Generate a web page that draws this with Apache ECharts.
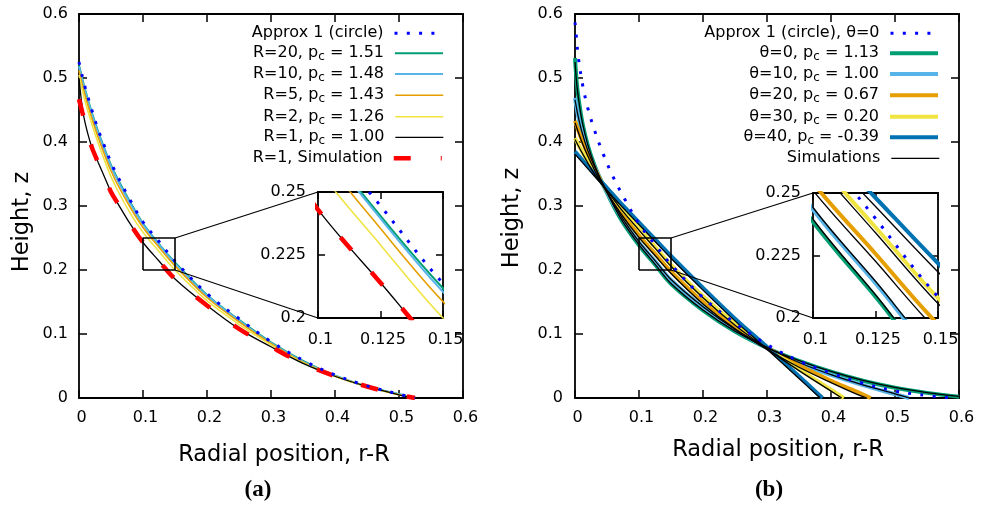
<!DOCTYPE html>
<html><head><meta charset="utf-8">
<script src="https://cdn.jsdelivr.net/npm/echarts@6/dist/echarts.min.js"></script>
<style>html,body{margin:0;padding:0;background:#fff}#c{width:988px;height:505px}</style>
</head><body><div id="c"></div>
<script>
// ---------------- tick values ----------------
const mainTicks = [0, 0.1, 0.2, 0.3, 0.4, 0.5, 0.6];
const insetXTicks = [0.1, 0.125, 0.15];
const insetZTicks = [0.2, 0.225, 0.25];
const zoomX = [0.1, 0.15];
const zoomZ = [0.2, 0.25];

// ---------------- panel (a) ----------------
const aX      = [0, 0.005, 0.01, 0.02, 0.03, 0.04, 0.05, 0.06, 0.08, 0.1, 0.125, 0.15, 0.2, 0.25, 0.3, 0.35, 0.4, 0.45, 0.5, 0.525];
const aCircle = [0.525, 0.503, 0.484, 0.450, 0.419, 0.393, 0.368, 0.347, 0.309, 0.275, 0.2445, 0.2138, 0.163, 0.124, 0.088, 0.059, 0.036, 0.019, 0.006, 0];
const aR20    = [0.520, 0.499, 0.480, 0.446, 0.416, 0.389, 0.364, 0.343, 0.306, 0.2725, 0.2405, 0.2118, 0.161, 0.122, 0.087, 0.058, 0.035, 0.018, 0.006, 0];
const aR10    = [0.518, 0.497, 0.478, 0.444, 0.414, 0.387, 0.362, 0.341, 0.304, 0.2715, 0.2395, 0.2104, 0.160, 0.121, 0.086, 0.057, 0.035, 0.018, 0.006, 0];
const aR5     = [0.512, 0.490, 0.471, 0.437, 0.407, 0.380, 0.355, 0.334, 0.298, 0.2665, 0.2355, 0.2065, 0.157, 0.119, 0.085, 0.056, 0.034, 0.018, 0.005, 0];
const aR2     = [0.505, 0.482, 0.462, 0.428, 0.398, 0.371, 0.346, 0.325, 0.289, 0.259, 0.229, 0.200, 0.152, 0.115, 0.083, 0.055, 0.034, 0.018, 0.005, 0];
const aR1     = [0.500, 0.455, 0.428, 0.392, 0.368, 0.345, 0.322, 0.305, 0.272, 0.243, 0.214, 0.186, 0.1445, 0.108, 0.080, 0.054, 0.034, 0.018, 0.005, 0];
const aSim    = [0.467, 0.447, 0.428, 0.392, 0.368, 0.345, 0.322, 0.305, 0.272, 0.243, 0.214, 0.186, 0.1445, 0.108, 0.080, 0.054, 0.034, 0.018, 0.005, 0];
const aNames  = ['Approx 1 (circle)', 'R=20', 'R=10', 'R=5', 'R=2', 'R=1', 'R=1, Simulation'];
const aLegend = ['Approx 1 (circle)', 'R=20, p{s|c} = 1.51', 'R=10, p{s|c} = 1.48', 'R=5, p{s|c} = 1.43', 'R=2, p{s|c} = 1.26', 'R=1, p{s|c} = 1.00', 'R=1, Simulation'];

// ---------------- panel (b) ----------------
const bCircleX = [0, 0.002, 0.005, 0.0114, 0.0197, 0.0306, 0.0442, 0.0593, 0.077, 0.1, 0.125, 0.15, 0.2, 0.25, 0.3, 0.35, 0.4, 0.45, 0.5, 0.54, 0.587];
const bCircleZ = [0.587, 0.566, 0.534, 0.492, 0.454, 0.418, 0.381, 0.346, 0.312, 0.272, 0.2398, 0.2085, 0.157, 0.117, 0.0835, 0.058, 0.039, 0.023, 0.011, 0.005, 0];

const b0X  = [0, 0.003, 0.007, 0.012, 0.02, 0.03, 0.042, 0.07, 0.1, 0.125, 0.15, 0.2, 0.25, 0.303, 0.35, 0.4, 0.45, 0.5, 0.55, 0.6];
const b0Z  = [0.531, 0.490, 0.458, 0.428, 0.395, 0.365, 0.337, 0.282, 0.2385, 0.2085, 0.1785, 0.137, 0.104, 0.077, 0.058, 0.041, 0.027, 0.016, 0.008, 0.002];
const b0S  = [0.525, 0.488, 0.457, 0.428, 0.3955, 0.3655, 0.3375, 0.283, 0.2395, 0.2093, 0.179, 0.1375, 0.1045, 0.0775, 0.0585, 0.0415, 0.0275, 0.0165, 0.0085, 0.0025];

const b10X = [0, 0.005, 0.01, 0.02, 0.03, 0.042, 0.07, 0.1, 0.125, 0.15, 0.2, 0.25, 0.303, 0.35, 0.4, 0.45, 0.5, 0.522];
const b10Z = [0.469, 0.440, 0.418, 0.386, 0.362, 0.337, 0.2866, 0.2434, 0.2139, 0.1844, 0.142, 0.107, 0.077, 0.055, 0.036, 0.020, 0.006, 0];
const b10S = [0.466, 0.440, 0.4185, 0.3865, 0.3625, 0.3375, 0.2873, 0.2442, 0.2147, 0.1852, 0.1427, 0.1075, 0.0775, 0.0555, 0.0365, 0.0205, 0.0065, 0.0003];

const b20X  = [0, 0.01, 0.02, 0.03, 0.042, 0.07, 0.1, 0.125, 0.15, 0.2, 0.25, 0.303, 0.35, 0.4, 0.44, 0.462];
const b20Z  = [0.433, 0.405, 0.381, 0.360, 0.337, 0.2936, 0.254, 0.2257, 0.1975, 0.150, 0.111, 0.077, 0.051, 0.027, 0.010, 0];
const b20SX = [0, 0.01, 0.02, 0.03, 0.042, 0.07, 0.1, 0.125, 0.15, 0.2, 0.25, 0.303, 0.35, 0.4, 0.44, 0.456];
const b20S  = [0.430, 0.402, 0.378, 0.357, 0.334, 0.2906, 0.251, 0.2227, 0.1945, 0.147, 0.108, 0.074, 0.048, 0.024, 0.006, 0];

const b30X  = [0, 0.01, 0.02, 0.03, 0.042, 0.07, 0.1, 0.125, 0.15, 0.2, 0.25, 0.303, 0.35, 0.4, 0.42];
const b30Z  = [0.406, 0.387, 0.3695, 0.3525, 0.337, 0.2998, 0.2646, 0.2363, 0.208, 0.159, 0.116, 0.077, 0.045, 0.013, 0];
const b30SX = [0, 0.01, 0.02, 0.03, 0.042, 0.07, 0.1, 0.125, 0.15, 0.2, 0.25, 0.303, 0.35, 0.4, 0.4167];
const b30S  = [0.404, 0.385, 0.3675, 0.3505, 0.3348, 0.2976, 0.2624, 0.2341, 0.2058, 0.1568, 0.1138, 0.0748, 0.0428, 0.0108, 0];

const b40X  = [0, 0.02, 0.042, 0.07, 0.1, 0.125, 0.15, 0.2, 0.25, 0.303, 0.35, 0.3865];
const b40Z  = [0.385, 0.362, 0.337, 0.306, 0.2744, 0.2481, 0.2219, 0.172, 0.124, 0.077, 0.034, 0];
const b40SX = [0, 0.02, 0.042, 0.07, 0.1, 0.125, 0.15, 0.2, 0.25, 0.303, 0.35, 0.383];
const b40S  = [0.381, 0.3585, 0.3335, 0.3025, 0.2709, 0.2446, 0.2184, 0.1685, 0.1205, 0.0735, 0.0305, 0];

const bNames  = ['Approx 1 (circle), θ=0', 'θ=0', 'θ=10', 'θ=20', 'θ=30', 'θ=40', 'Simulations'];
const bLegend = ['Approx 1 (circle), θ=0', 'θ=0, p{s|c} = 1.13', 'θ=10, p{s|c} = 1.00', 'θ=20, p{s|c} = 0.67', 'θ=30, p{s|c} = 0.20', 'θ=40, p{s|c} = -0.39', 'Simulations'];

// ---------------- styling ----------------
const FONT = 'DejaVu Sans';
const K = '#000';
const C = {green:'#009e73', lblue:'#56b4e9', orange:'#e69f00', yellow:'#f0e442', dblue:'#0072b2', dots:'#0000ff', red:'#ff0000'};
const DOT = [3, 9.3];
const DASH = [17, 30];

function fmt(v){ return String(+(+v).toFixed(3)); }
function step(t){ return +(t[1]-t[0]).toFixed(6); }
function zip(xs, zs){ return xs.map((x,i)=>[x, zs[i]]); }

function ax(ticks, gridIndex, position, showLabel, margin, tickLen, pad){
  return {
    type:'value', gridIndex, position,
    min:ticks[0], max:ticks[ticks.length-1], interval:step(ticks),
    axisLine:{show:true, onZero:false, lineStyle:{color:K, width:1.8}},
    axisTick:{show:true, inside:true, length:tickLen, lineStyle:{color:K, width:1.5}},
    splitLine:{show:false},
    axisLabel:{show:showLabel, margin:margin||0, color:K, fontFamily:FONT, fontSize:16,
      formatter:fmt, padding:pad||0, showMinLabel:true, showMaxLabel:true}
  };
}

const xAxis = [
  ax(mainTicks, 0, 'bottom', true, 12, 8, [0,0,0,5]),
  ax(mainTicks, 0, 'top', false, 0, 8),
  ax(insetXTicks, 1, 'bottom', true, 14, 7, [0,0,0,5]),
  ax(insetXTicks, 1, 'top', false, 0, 7),
  ax(mainTicks, 2, 'bottom', true, 12, 8, [0,0,0,5]),
  ax(mainTicks, 2, 'top', false, 0, 8),
  ax(insetXTicks, 3, 'bottom', true, 14, 7, [0,0,0,5]),
  ax(insetXTicks, 3, 'top', false, 0, 7)
];
const yAxis = [
  ax(mainTicks, 0, 'left', true, 11, 8),
  ax(mainTicks, 0, 'right', false, 0, 8),
  ax(insetZTicks, 1, 'left', true, 12, 7),
  ax(insetZTicks, 1, 'right', false, 0, 7),
  ax(mainTicks, 2, 'left', true, 12, 8),
  ax(mainTicks, 2, 'right', false, 0, 8),
  ax(insetZTicks, 3, 'left', true, 12, 7),
  ax(insetZTicks, 3, 'right', false, 0, 7)
];

const grid = [
  {left:79, top:14, width:384, height:384},
  {left:318, top:192, width:125, height:126},
  {left:575, top:14, width:384, height:384},
  {left:813, top:193, width:125, height:125}
];

function line(name, data, color, width, type, ai, z){
  return {type:'line', name, data, xAxisIndex:ai, yAxisIndex:ai, symbol:'none',
    smooth:0.35, clip:true, silent:true, z,
    lineStyle:{color, width, type, cap:'butt'}, itemStyle:{color}};
}

function panelA(ai){
  return [
    line(aNames[1], zip(aX, aR20), C.green, 2, 'solid', ai, 2),
    line(aNames[2], zip(aX, aR10), C.lblue, 2, 'solid', ai, 2),
    line(aNames[3], zip(aX, aR5), C.orange, 1.6, 'solid', ai, 2),
    line(aNames[4], zip(aX, aR2), C.yellow, 1.6, 'solid', ai, 2),
    line(aNames[5], zip(aX, aR1), K, 1.3, 'solid', ai, 3),
    line(aNames[6], zip(aX, aSim), C.red, 4.5, DASH, ai, 4),
    line(aNames[0], zip(aX, aCircle), C.dots, 3, DOT, ai, 5)
  ];
}
function panelB(ai){
  return [
    line(bNames[1], zip(b0X, b0Z), C.green, 4, 'solid', ai, 2),
    line(bNames[2], zip(b10X, b10Z), C.lblue, 4, 'solid', ai, 2),
    line(bNames[3], zip(b20X, b20Z), C.orange, 4, 'solid', ai, 2),
    line(bNames[4], zip(b30X, b30Z), C.yellow, 4, 'solid', ai, 2),
    line(bNames[5], zip(b40X, b40Z), C.dblue, 4, 'solid', ai, 2),
    line(bNames[6], zip(b0X, b0S), K, 1.3, 'solid', ai, 3),
    line(bNames[6], zip(b10X, b10S), K, 1.3, 'solid', ai, 3),
    line(bNames[6], zip(b20SX, b20S), K, 1.3, 'solid', ai, 3),
    line(bNames[6], zip(b30SX, b30S), K, 1.3, 'solid', ai, 3),
    line(bNames[6], zip(b40SX, b40S), K, 1.3, 'solid', ai, 3),
    line(bNames[0], zip(bCircleX, bCircleZ), C.dots, 3, DOT, ai, 5)
  ];
}
function zoomRect(ai){
  const d = [[zoomX[0],zoomZ[0]],[zoomX[1],zoomZ[0]],[zoomX[1],zoomZ[1]],[zoomX[0],zoomZ[1]],[zoomX[0],zoomZ[0]]];
  return {type:'line', data:d, xAxisIndex:ai, yAxisIndex:ai, symbol:'none', silent:true, z:6,
    lineStyle:{color:K, width:1.6}};
}

const series = [].concat(panelA(0), panelA(2), [zoomRect(0)], panelB(4), panelB(6), [zoomRect(4)]);

const rowTop = [33.3, 53.3, 74, 95.3, 116.7, 137.3, 158.3];
function legendItem(name, label, right, i){
  return {data:[name], right, top: rowTop[i]-10, orient:'horizontal', align:'right',
    itemWidth:48, itemHeight:14, padding:0, selectedMode:false,
    formatter: () => label,
    lineStyle:{width:'inherit'},
    itemStyle:{color:'transparent', borderWidth:0, opacity:0},
    textStyle:{color:K, fontFamily:FONT, fontSize:16, lineHeight:20, padding:[0,6,0,0],
      rich:{s:{fontFamily:FONT, fontSize:12, color:K, lineHeight:10, verticalAlign:'bottom'}}}};
}
const legend = [];
aNames.forEach((n,i)=>legend.push(legendItem(n, aLegend[i], 544, i)));
bNames.forEach((n,i)=>legend.push(legendItem(n, bLegend[i], 48, i)));

const chart = echarts.init(document.getElementById('c'), null, {renderer:'canvas'});
chart.setOption({animation:false, backgroundColor:'#fff', grid, xAxis, yAxis, series, legend});

function txt(text, x, y, font, rot){
  return {type:'text', x, y, rotation:rot||0, z:100,
    style:{text, font, fill:K, align:'center', verticalAlign:'middle'}};
}
function connector(mainAi, insetAi){
  const els = [];
  const a1 = chart.convertToPixel({xAxisIndex:mainAi, yAxisIndex:mainAi}, [zoomX[1], zoomZ[1]]);
  const b1 = chart.convertToPixel({xAxisIndex:insetAi, yAxisIndex:insetAi}, [insetXTicks[0], insetZTicks[insetZTicks.length-1]]);
  const a2 = chart.convertToPixel({xAxisIndex:mainAi, yAxisIndex:mainAi}, [zoomX[1], zoomZ[0]]);
  const b2 = chart.convertToPixel({xAxisIndex:insetAi, yAxisIndex:insetAi}, [insetXTicks[0], insetZTicks[0]]);
  [[a1,b1],[a2,b2]].forEach(([p,q])=>els.push({type:'line', z:50, silent:true,
    shape:{x1:p[0], y1:p[1], x2:q[0], y2:q[1]}, style:{stroke:K, lineWidth:1.2}}));
  return els;
}
const TITLE = '22.5px "DejaVu Sans"';
const graphic = [].concat(
  connector(0, 2), connector(4, 6),
  [txt('Radial position, r-R', 284, 455, TITLE),
   txt('Radial position, r-R', 778, 450, TITLE),
   txt('Height, z', 22, 222, TITLE, Math.PI/2),
   txt('Height, z', 512, 218, TITLE, Math.PI/2),
   txt('(a)', 258, 490, 'bold 23px "Liberation Serif"'),
   txt('(b)', 769, 490, 'bold 23px "Liberation Serif"')]
);
chart.setOption({graphic});
</script>
</body></html>
